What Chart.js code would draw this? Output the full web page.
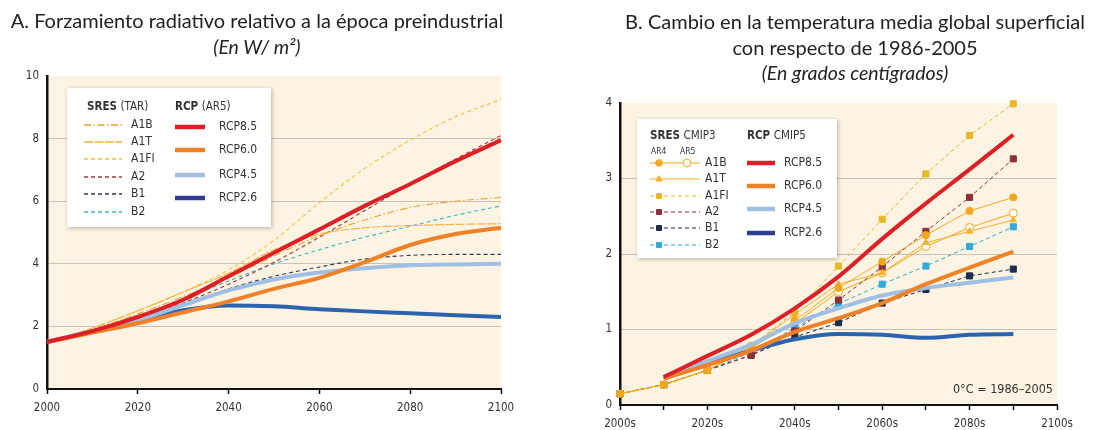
<!DOCTYPE html>
<html lang="es">
<head>
<meta charset="utf-8">
<script src="https://cdn.jsdelivr.net/npm/chart.js@4.4.1/dist/chart.umd.min.js"></script>
<style>
body { margin: 0; background: #fff; }
#wrap { position: relative; width: 1102px; height: 430px; overflow: hidden; }
canvas { position: absolute; top: 0; }
.title { position: absolute; text-align: center; font-family: Lato, "Open Sans", sans-serif; font-size: 20px; line-height: 25.5px; color: #222; }
.title i { font-size: 19.5px; }
</style>
</head>
<body>
<div id="wrap">
  <canvas id="forcing" width="555" height="430" style="left:0"></canvas>
  <canvas id="temperature" width="542" height="430" style="left:560px"></canvas>
  <div class="title" style="left:0;width:514px;top:8px">A. Forzamiento radiativo relativo a la época preindustrial<br><i>(En W/ m²)</i></div>
  <div class="title" style="left:610px;width:490px;top:9px">B. Cambio en la temperatura media global superficial<br>con respecto de 1986-2005<br><i>(En grados centígrados)</i></div>
</div>
<script>
// --- A. forzamiento radiativo (W/m2) ---
const yearsA = [2000, 2010, 2020, 2030, 2040, 2050, 2060, 2070, 2080, 2090, 2100]
const rcp85A = [1.5, 1.85, 2.3, 2.85, 3.6, 4.35, 5.1, 5.85, 6.55, 7.28, 7.95]
const rcp60A = [1.5, 1.8, 2.1, 2.45, 2.8, 3.2, 3.55, 4.05, 4.6, 4.95, 5.15]
const rcp45A = [1.5, 1.85, 2.2, 2.68, 3.15, 3.5, 3.72, 3.86, 3.95, 3.98, 4.0]
const rcp26A = [1.5, 1.85, 2.2, 2.52, 2.67, 2.64, 2.55, 2.48, 2.42, 2.36, 2.3]
const a1bA = [1.5, 1.9, 2.4, 2.95, 3.55, 4.25, 4.9, 5.4, 5.8, 6.0, 6.12]
const a1tA = [1.5, 1.95, 2.5, 3.1, 3.7, 4.45, 4.95, 5.15, 5.22, 5.26, 5.28]
const a1fiA = [1.5, 1.95, 2.5, 3.1, 3.8, 4.75, 5.95, 7.05, 7.95, 8.7, 9.25]
const a2A = [1.5, 1.85, 2.25, 2.75, 3.35, 4.05, 4.85, 5.7, 6.55, 7.35, 8.1]
const b1A = [1.5, 1.85, 2.2, 2.65, 3.2, 3.6, 3.9, 4.15, 4.27, 4.3, 4.3]
const b2A = [1.5, 1.85, 2.2, 2.85, 3.45, 4.0, 4.45, 4.85, 5.2, 5.55, 5.85]

// --- B. cambio de temperatura (°C), por decenio ---
const decadesB = [2000, 2010, 2020, 2030, 2040, 2050, 2060, 2070, 2080, 2090]
const rcp85B = [null, 0.37, 0.65, 0.93, 1.28, 1.7, 2.2, 2.67, 3.12, 3.58]
const rcp60B = [null, 0.35, 0.53, 0.72, 0.97, 1.15, 1.35, 1.6, 1.82, 2.03]
const rcp45B = [null, 0.37, 0.58, 0.8, 1.08, 1.28, 1.45, 1.55, 1.62, 1.69]
const rcp26B = [null, 0.35, 0.55, 0.72, 0.87, 0.94, 0.93, 0.89, 0.93, 0.94]
const a1bAr4B = [0.15, 0.27, 0.46, 0.75, 1.12, 1.55, 1.9, 2.25, 2.57, 2.75]
const a1bAr5B = [null, null, null, 0.78, 1.08, 1.5, 1.75, 2.1, 2.35, 2.54]
const a1tB = [0.15, 0.27, 0.46, 0.78, 1.2, 1.6, 1.75, 2.15, 2.3, 2.45]
const a1fiB = [0.15, 0.27, 0.46, 0.78, 1.23, 1.84, 2.46, 3.06, 3.57, 3.99]
const a2B = [0.15, 0.27, 0.46, 0.66, 0.98, 1.39, 1.83, 2.3, 2.75, 3.26]
const b1B = [0.15, 0.27, 0.46, 0.66, 0.9, 1.09, 1.35, 1.53, 1.71, 1.8]
const b2B = [0.15, 0.27, 0.46, 0.7, 1.02, 1.34, 1.6, 1.84, 2.1, 2.36]

const tickFamily = '"Liberation Sans Narrow", "DejaVu Sans Condensed", Roboto, sans-serif'
const textColor = '#333'
const gridColor = '#c9c2b6'

const colors = {
    rcp85: '#de1f26',
    rcp60: '#ef8128',
    rcp45: '#9fc0e4',
    rcp26: '#2b64ae',
    rcp26Legend: '#2f3e8c',
    a1b: '#f0a030',
    a1t: '#f3b33c',
    a1fi: '#f2c23e',
    a2: '#9e3b42',
    b1: '#2f355c',
    b2: '#39b6c2'
}

function toPoints(xs, ys) {
    return xs.map((x, i) => ({x: x, y: ys[i]})).filter(p => p.y !== null)
}

function hideEdges(low, high) {
    return ctx => (ctx.tick.value === low || ctx.tick.value === high) ? 'rgba(0,0,0,0)' : gridColor
}

const plotBackground = {
    id: 'plotBackground',
    beforeDraw(chart) {
        const {ctx, chartArea} = chart
        ctx.save()
        ctx.fillStyle = '#fdf3e2'
        ctx.fillRect(chartArea.left, chartArea.top, chartArea.right - chartArea.left, chartArea.bottom - chartArea.top)
        ctx.restore()
    }
}

function drawBox(ctx, x, y, w, h) {
    ctx.save()
    ctx.shadowColor = 'rgba(0,0,0,0.28)'
    ctx.shadowBlur = 4
    ctx.shadowOffsetX = 1
    ctx.shadowOffsetY = 1
    ctx.fillStyle = '#fff'
    ctx.fillRect(x, y, w, h)
    ctx.restore()
}

function drawSample(ctx, color, width, dash, x1, x2, y) {
    ctx.save()
    ctx.strokeStyle = color
    ctx.lineWidth = width
    ctx.setLineDash(dash || [])
    ctx.beginPath()
    ctx.moveTo(x1, y)
    ctx.lineTo(x2, y)
    ctx.stroke()
    ctx.restore()
}

function drawMarker(ctx, style, x, y, r, fill, stroke) {
    ctx.save()
    ctx.beginPath()
    if (style === 'circle') {
        ctx.arc(x, y, r, 0, Math.PI * 2)
    } else if (style === 'triangle') {
        ctx.moveTo(x, y - r)
        ctx.lineTo(x + r * 0.95, y + r * 0.6)
        ctx.lineTo(x - r * 0.95, y + r * 0.6)
        ctx.closePath()
    } else {
        ctx.rect(x - r * 0.75, y - r * 0.75, r * 1.5, r * 1.5)
    }
    ctx.fillStyle = fill
    ctx.fill()
    ctx.lineWidth = 1
    ctx.strokeStyle = stroke
    ctx.stroke()
    ctx.restore()
}

function drawHeader(ctx, bold, rest, x, y) {
    ctx.font = 'bold 11.5px ' + tickFamily
    ctx.fillText(bold, x, y)
    const w = ctx.measureText(bold + ' ').width
    ctx.font = '11.5px ' + tickFamily
    ctx.fillText(rest, x + w, y)
}

const legendForcing = {
    id: 'legendForcing',
    afterDraw(chart) {
        const ctx = chart.ctx
        const sets = chart.data.datasets
        drawBox(ctx, 67, 88, 204, 139)
        ctx.save()
        ctx.fillStyle = textColor
        ctx.textBaseline = 'middle'
        drawHeader(ctx, 'SRES', '(TAR)', 87, 107)
        drawHeader(ctx, 'RCP', '(AR5)', 175, 107)
        ctx.font = '12px ' + tickFamily
        const sresRows = [125, 142, 159, 177, 194, 212]
        sets.filter(d => d.group === 'sres').forEach((d, i) => {
            drawSample(ctx, d.borderColor, 1.3, d.borderDash, 84, 122, sresRows[i])
            ctx.fillText(d.label, 131, sresRows[i])
        })
        const rcpRows = [127, 150, 175, 198]
        sets.filter(d => d.group === 'rcp').forEach((d, i) => {
            drawSample(ctx, d.legendColor || d.borderColor, 4.5, [], 175, 205, rcpRows[i])
            ctx.fillText(d.label, 219, rcpRows[i])
        })
        ctx.restore()
    }
}

const legendTemperature = {
    id: 'legendTemperature',
    afterDraw(chart) {
        const ctx = chart.ctx
        const sets = chart.data.datasets
        const {right, bottom} = chart.chartArea
        drawBox(ctx, 77, 119, 200, 139)
        ctx.save()
        ctx.fillStyle = textColor
        ctx.textBaseline = 'middle'
        drawHeader(ctx, 'SRES', 'CMIP3', 90, 136)
        drawHeader(ctx, 'RCP', 'CMIP5', 187, 136)
        ctx.font = '8.5px ' + tickFamily
        ctx.fillText('AR4', 91, 152)
        ctx.fillText('AR5', 120, 152)
        ctx.font = '12px ' + tickFamily
        const sresRows = [163, 179, 196, 212, 228, 245]
        sets.filter(d => d.group === 'sres').forEach((d, i) => {
            const y = sresRows[i]
            drawSample(ctx, d.borderColor, 1, d.borderDash, 90, 140, y)
            drawMarker(ctx, d.pointStyle, 99, y, 3.3, d.pointBackgroundColor, d.pointBorderColor)
            if (d.label === 'A1B') {
                drawMarker(ctx, 'circle', 127, y, 3.8, '#fff', d.pointBorderColor)
            }
            ctx.fillStyle = textColor
            ctx.fillText(d.label, 145, y)
        })
        const rcpRows = [163, 186, 209, 233]
        sets.filter(d => d.group === 'rcp').forEach((d, i) => {
            drawSample(ctx, d.legendColor || d.borderColor, 4.5, [], 187, 215, rcpRows[i])
            ctx.fillText(d.label, 224, rcpRows[i])
        })
        ctx.font = '12.5px ' + tickFamily
        ctx.textAlign = 'right'
        ctx.fillText('0°C = 1986–2005', right - 4, bottom - 15)
        ctx.restore()
    }
}

function rcpLine(label, xs, ys, color, legendColor) {
    return {label: label, group: 'rcp', data: toPoints(xs, ys), borderColor: color, legendColor: legendColor,
        borderWidth: 4, pointRadius: 0, cubicInterpolationMode: 'monotone', clip: 6}
}

function sresLineA(label, ys, color, dash) {
    return {label: label, group: 'sres', data: toPoints(yearsA, ys), borderColor: color, borderDash: dash,
        borderWidth: 1.1, pointRadius: 0, cubicInterpolationMode: 'monotone'}
}

function sresLineB(label, ys, color, dash, style) {
    return {label: label, group: 'sres', data: toPoints(decadesB, ys), borderColor: color, borderDash: dash,
        borderWidth: 1, pointStyle: style, pointRadius: style === 'rect' ? 4.3 : 3.6,
        pointBackgroundColor: color, pointBorderColor: color, pointBorderWidth: 1, clip: 6}
}

const xTicks = {padding: 7, color: textColor, font: {family: tickFamily, size: 11.5}, autoSkip: false, maxRotation: 0}
const xGrid = {drawOnChartArea: false, tickLength: 5, tickColor: '#111', tickWidth: 1.5}
const axisBorder = {color: '#111', width: 2}

new Chart(document.getElementById('forcing'), {
    type: 'line',
    data: {
        datasets: [
            rcpLine('RCP8.5', yearsA, rcp85A, colors.rcp85),
            rcpLine('RCP6.0', yearsA, rcp60A, colors.rcp60),
            rcpLine('RCP4.5', yearsA, rcp45A, colors.rcp45),
            rcpLine('RCP2.6', yearsA, rcp26A, colors.rcp26, colors.rcp26Legend),
            sresLineA('A1B', a1bA, colors.a1b, [7, 2.5, 1.5, 2.5]),
            sresLineA('A1T', a1tA, colors.a1t, [9, 1.5]),
            sresLineA('A1FI', a1fiA, colors.a1fi, [4, 3]),
            sresLineA('A2', a2A, colors.a2, [4, 3]),
            sresLineA('B1', b1A, colors.b1, [4, 3]),
            sresLineA('B2', b2A, colors.b2, [4, 3])
        ]
    },
    options: {
        responsive: false,
        animation: false,
        devicePixelRatio: 1,
        layout: {padding: {top: 76, right: 54, bottom: 0, left: 0}},
        plugins: {legend: {display: false}, tooltip: {enabled: false}},
        scales: {
            x: {
                type: 'linear', min: 2000, max: 2100,
                ticks: {...xTicks, stepSize: 20, callback: v => String(v)},
                grid: xGrid,
                border: axisBorder,
                afterFit: s => { s.height = 41 }
            },
            y: {
                min: 0, max: 10,
                ticks: {stepSize: 2, padding: 8, color: textColor, font: {family: tickFamily, size: 11.5}},
                grid: {drawTicks: false, color: hideEdges(0, 10)},
                border: {color: '#111', width: 2.5},
                afterFit: s => { s.width = 47 }
            }
        }
    },
    plugins: [plotBackground, legendForcing]
})

new Chart(document.getElementById('temperature'), {
    type: 'line',
    data: {
        datasets: [
            rcpLine('RCP8.5', decadesB, rcp85B, colors.rcp85),
            rcpLine('RCP6.0', decadesB, rcp60B, colors.rcp60),
            rcpLine('RCP4.5', decadesB, rcp45B, colors.rcp45),
            rcpLine('RCP2.6', decadesB, rcp26B, colors.rcp26, colors.rcp26Legend),
            sresLineB('A1B', a1bAr4B, '#f2a81e', [], 'circle'),
            sresLineB('A1T', a1tB, '#f4b02a', [], 'triangle'),
            sresLineB('A1FI', a1fiB, '#e8b824', [4, 3], 'rect'),
            sresLineB('A2', a2B, '#8e3034', [4, 3], 'rect'),
            sresLineB('B1', b1B, '#1f2b4c', [4, 3], 'rect'),
            sresLineB('B2', b2B, '#2fa9d9', [4, 3], 'rect'),
            {label: 'A1B AR5', group: 'ar5', data: toPoints(decadesB, a1bAr5B), borderColor: '#f2a81e', borderWidth: 1,
                pointStyle: 'circle', pointRadius: 4, pointBackgroundColor: '#fff', pointBorderColor: '#f2a81e', clip: 6}
        ]
    },
    options: {
        responsive: false,
        animation: false,
        devicePixelRatio: 1,
        layout: {padding: {top: 103, right: 45, bottom: 0, left: 0}},
        plugins: {legend: {display: false}, tooltip: {enabled: false}},
        scales: {
            x: {
                type: 'linear', min: 2000, max: 2100,
                ticks: {...xTicks, stepSize: 10, callback: v => v % 20 === 0 ? v + 's' : ''},
                grid: xGrid,
                border: axisBorder,
                afterFit: s => { s.height = 25 }
            },
            y: {
                min: 0, max: 4,
                ticks: {stepSize: 1, padding: 8, color: textColor, font: {family: tickFamily, size: 11.5}},
                grid: {drawTicks: false, color: hideEdges(0, 4)},
                border: {color: '#111', width: 2.5},
                afterFit: s => { s.width = 60 }
            }
        }
    },
    plugins: [plotBackground, legendTemperature]
})
</script>
</body>
</html>
